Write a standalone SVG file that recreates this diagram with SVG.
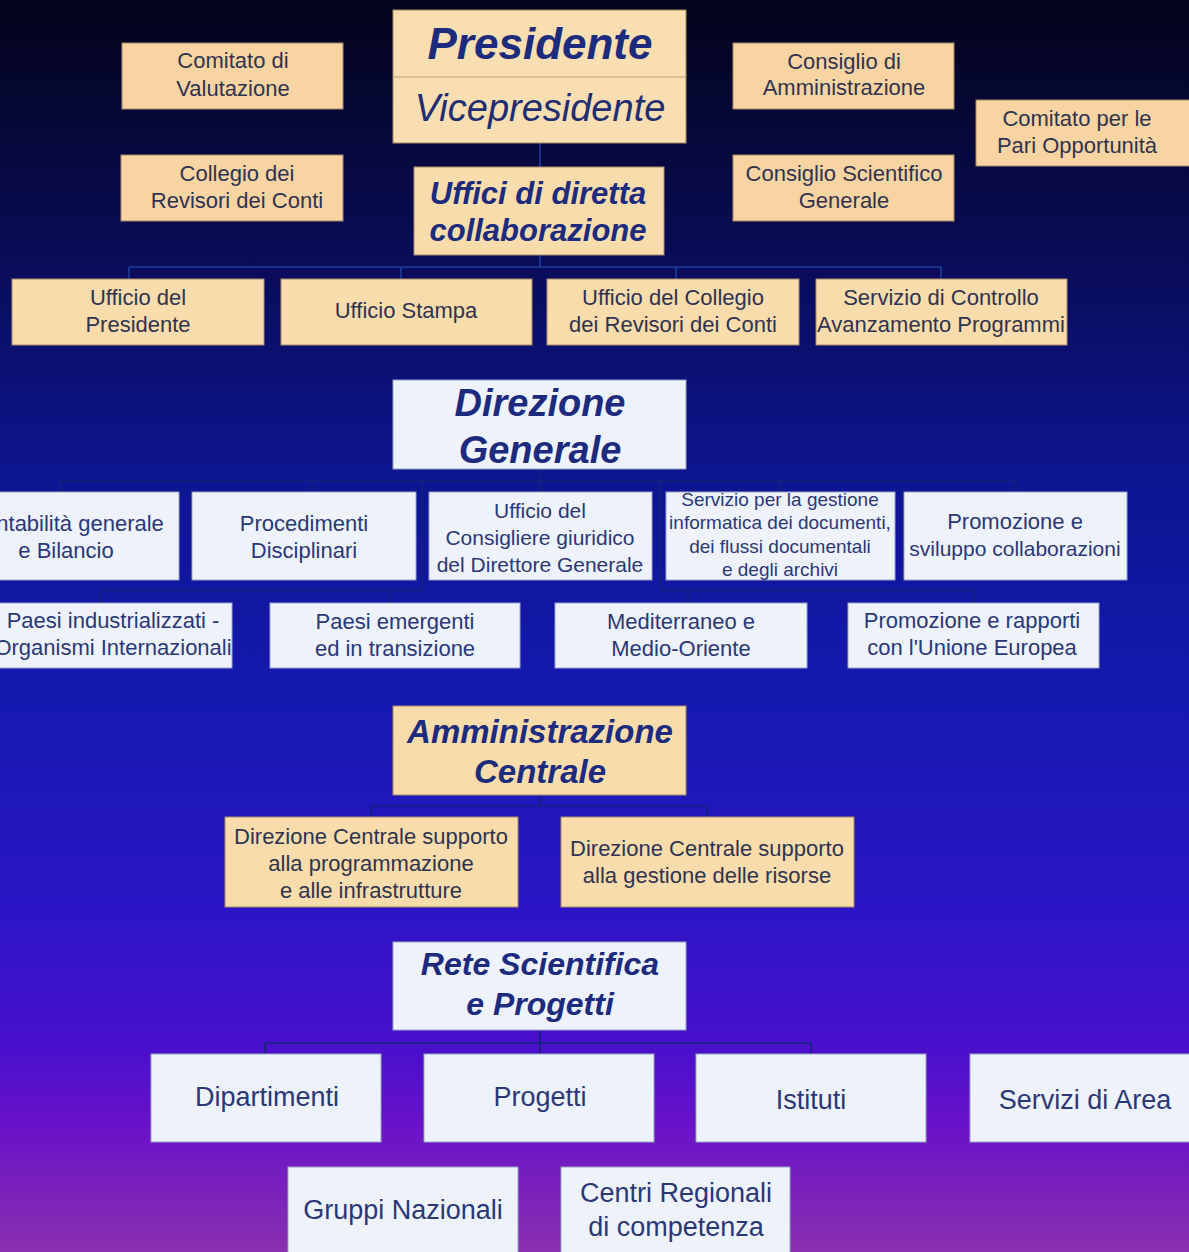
<svg xmlns="http://www.w3.org/2000/svg" width="1189" height="1252" viewBox="0 0 1189 1252">
<defs>
<linearGradient id="bg" x1="0" y1="0" x2="0" y2="1">
<stop offset="0" stop-color="#03041a"/>
<stop offset="0.2" stop-color="#090c55"/>
<stop offset="0.38" stop-color="#0d1590"/>
<stop offset="0.56" stop-color="#1519b0"/>
<stop offset="0.72" stop-color="#2a16c4"/>
<stop offset="0.84" stop-color="#4a10cc"/>
<stop offset="0.9" stop-color="#6a12c8"/>
<stop offset="1" stop-color="#8a30b0"/>
</linearGradient>
<style>
.pe{fill:#f8d4a2;stroke:#a88a6a;stroke-width:1}
.pl{fill:#f8dcab;stroke:#a88a6a;stroke-width:1}
.lt{fill:#eef2fa;stroke:#9aa4c4;stroke-width:1}
.t{font-family:"Liberation Sans",Arial,sans-serif;font-size:22px;text-anchor:middle}
.s19{font-size:19px}
.s21{font-size:21px}
.s23{font-size:23px}
.s27{font-size:27px}
.td{fill:#30334f}
.tb{fill:#2b3876}
.big{font-family:"Liberation Sans",Arial,sans-serif;font-style:italic;font-weight:bold;text-anchor:middle;fill:#1c2b7e}
.c1{fill:none;stroke:#1c3e9e;stroke-width:1.6}
.c2{fill:none;stroke:#13227a;stroke-width:1.6}
</style>
</defs>
<rect x="0" y="0" width="1189" height="1252" fill="url(#bg)"/>

<g id="connectors">
<path class="c1" d="M540 143V167M540 255V267M129 267H941M129 267V279M401 267V279M676 267V279M941 267V279"/>
<path class="c2" d="M540 469V492M60 481H1016M60 481V492M312 481V492M780 481V492M1016 481V492"/>
<path class="c2" d="M422 481V590M100 590H422M100 590V603M391 590V603"/>
<path class="c2" d="M660 481V590H975M688 590V603M975 590V603"/>
<path class="c2" d="M540 795V806M371 806H707M371 806V817M707 806V817"/>
<path class="c2" d="M540 1030V1054M265 1043H811M265 1043V1054M811 1043V1054"/>
</g>

<g id="presidente">
<rect class="pl" x="393" y="10" width="293" height="133" style="fill:#f8deb0"/>
<line x1="394" y1="77" x2="685" y2="77" stroke="#c9b48e" stroke-width="1.5"/>
<text class="big" x="540" y="59" style="font-size:44px">Presidente</text>
<text x="540" y="121" style="font-size:38px;font-style:italic;text-anchor:middle;fill:#1f2d72;font-family:'Liberation Sans',Arial,sans-serif">Vicepresidente</text>
</g>

<g id="comitato-valutazione">
<rect class="pe" x="122" y="43" width="221" height="66"/>
<text class="t td" x="233" y="68">Comitato di</text>
<text class="t td" x="233" y="96">Valutazione</text>
</g>

<g id="collegio-revisori">
<rect class="pe" x="121" y="155" width="222" height="66"/>
<text class="t td" x="237" y="181">Collegio dei</text>
<text class="t td" x="237" y="208">Revisori dei Conti</text>
</g>

<g id="consiglio-amministrazione">
<rect class="pe" x="733" y="43" width="221" height="66"/>
<text class="t td" x="844" y="69">Consiglio di</text>
<text class="t td" x="844" y="95">Amministrazione</text>
</g>

<g id="consiglio-scientifico">
<rect class="pe" x="733" y="155" width="221" height="66"/>
<text class="t td" x="844" y="181">Consiglio Scientifico</text>
<text class="t td" x="844" y="208">Generale</text>
</g>

<g id="comitato-pari-opportunita">
<rect class="pe" x="976" y="100" width="220" height="66"/>
<text class="t td" x="1077" y="126">Comitato per le</text>
<text class="t td" x="1077" y="153">Pari Opportunità</text>
</g>

<g id="uffici-diretta">
<rect class="pl" x="414" y="167" width="250" height="88"/>
<text class="big" x="538" y="204" style="font-size:31px">Uffici di diretta</text>
<text class="big" x="538" y="241" style="font-size:31px">collaborazione</text>
</g>

<g id="ufficio-presidente">
<rect class="pl" x="12" y="279" width="252" height="66"/>
<text class="t td" x="138" y="305">Ufficio del</text>
<text class="t td" x="138" y="332">Presidente</text>
</g>

<g id="ufficio-stampa">
<rect class="pl" x="281" y="279" width="251" height="66"/>
<text class="t td" x="406" y="318">Ufficio Stampa</text>
</g>

<g id="ufficio-collegio">
<rect class="pl" x="547" y="279" width="252" height="66"/>
<text class="t td" x="673" y="305">Ufficio del Collegio</text>
<text class="t td" x="673" y="332">dei Revisori dei Conti</text>
</g>

<g id="servizio-controllo">
<rect class="pl" x="816" y="279" width="251" height="66"/>
<text class="t td" x="941" y="305">Servizio di Controllo</text>
<text class="t td" x="941" y="332">Avanzamento Programmi</text>
</g>

<g id="direzione-generale">
<rect class="lt" x="393" y="380" width="293" height="89"/>
<text class="big" x="540" y="416" style="font-size:38px">Direzione</text>
<text class="big" x="540" y="463" style="font-size:38px">Generale</text>
</g>

<g id="contabilita">
<rect class="lt" x="-46" y="492" width="225" height="88"/>
<text class="t tb" x="66" y="531">Contabilità generale</text>
<text class="t tb" x="66" y="558">e Bilancio</text>
</g>

<g id="procedimenti">
<rect class="lt" x="192" y="492" width="224" height="88"/>
<text class="t tb" x="304" y="531">Procedimenti</text>
<text class="t tb" x="304" y="558">Disciplinari</text>
</g>

<g id="consigliere-giuridico">
<rect class="lt" x="429" y="492" width="223" height="88"/>
<text class="t tb s21" x="540" y="518">Ufficio del</text>
<text class="t tb s21" x="540" y="545">Consigliere giuridico</text>
<text class="t tb s21" x="540" y="572">del Direttore Generale</text>
</g>

<g id="servizio-gestione">
<rect class="lt" x="666" y="492" width="229" height="88"/>
<text class="t tb s19" x="780" y="506">Servizio per la gestione</text>
<text class="t tb s19" x="780" y="529">informatica dei documenti,</text>
<text class="t tb s19" x="780" y="553">dei flussi documentali</text>
<text class="t tb s19" x="780" y="576">e degli archivi</text>
</g>

<g id="promozione-sviluppo">
<rect class="lt" x="904" y="492" width="223" height="88"/>
<text class="t tb" x="1015" y="529">Promozione e</text>
<text class="t tb s21" x="1015" y="556">sviluppo collaborazioni</text>
</g>

<g id="paesi-industrializzati">
<rect class="lt" x="-18" y="603" width="250" height="65"/>
<text class="t tb" x="113" y="628">Paesi industrializzati -</text>
<text class="t tb" x="113" y="655">Organismi Internazionali</text>
</g>

<g id="paesi-emergenti">
<rect class="lt" x="270" y="603" width="250" height="65"/>
<text class="t tb" x="395" y="629">Paesi emergenti</text>
<text class="t tb" x="395" y="656">ed in transizione</text>
</g>

<g id="mediterraneo">
<rect class="lt" x="555" y="603" width="252" height="65"/>
<text class="t tb" x="681" y="629">Mediterraneo e</text>
<text class="t tb" x="681" y="656">Medio-Oriente</text>
</g>

<g id="promozione-ue">
<rect class="lt" x="848" y="603" width="251" height="65"/>
<text class="t tb" x="972" y="628">Promozione e rapporti</text>
<text class="t tb" x="972" y="655">con l'Unione Europea</text>
</g>

<g id="amministrazione-centrale">
<rect class="pl" x="393" y="706" width="293" height="89"/>
<text class="big" x="540" y="743" style="font-size:33px">Amministrazione</text>
<text class="big" x="540" y="783" style="font-size:33px">Centrale</text>
</g>

<g id="dc-programmazione">
<rect class="pl" x="225" y="817" width="293" height="90"/>
<text class="t td" x="371" y="844">Direzione Centrale supporto</text>
<text class="t td" x="371" y="871">alla programmazione</text>
<text class="t td" x="371" y="898">e alle infrastrutture</text>
</g>

<g id="dc-risorse">
<rect class="pl" x="561" y="817" width="293" height="90"/>
<text class="t td" x="707" y="856">Direzione Centrale supporto</text>
<text class="t td" x="707" y="883">alla gestione delle risorse</text>
</g>

<g id="rete-scientifica">
<rect class="lt" x="393" y="942" width="293" height="88"/>
<text class="big" x="540" y="975" style="font-size:32px">Rete Scientifica</text>
<text class="big" x="540" y="1015" style="font-size:32px">e Progetti</text>
</g>

<g id="dipartimenti">
<rect class="lt" x="151" y="1054" width="230" height="88"/>
<text class="t tb s27" x="267" y="1106">Dipartimenti</text>
</g>

<g id="progetti">
<rect class="lt" x="424" y="1054" width="230" height="88"/>
<text class="t tb s27" x="540" y="1106">Progetti</text>
</g>

<g id="istituti">
<rect class="lt" x="696" y="1054" width="230" height="88"/>
<text class="t tb s27" x="811" y="1109">Istituti</text>
</g>

<g id="servizi-area">
<rect class="lt" x="970" y="1054" width="230" height="88"/>
<text class="t tb s27" x="1085" y="1109">Servizi di Area</text>
</g>

<g id="gruppi-nazionali">
<rect class="lt" x="288" y="1167" width="230" height="95"/>
<text class="t tb s27" x="403" y="1219">Gruppi Nazionali</text>
</g>

<g id="centri-regionali">
<rect class="lt" x="561" y="1167" width="229" height="95"/>
<text class="t tb s27" x="676" y="1202">Centri Regionali</text>
<text class="t tb s27" x="676" y="1236">di competenza</text>
</g>
</svg>
